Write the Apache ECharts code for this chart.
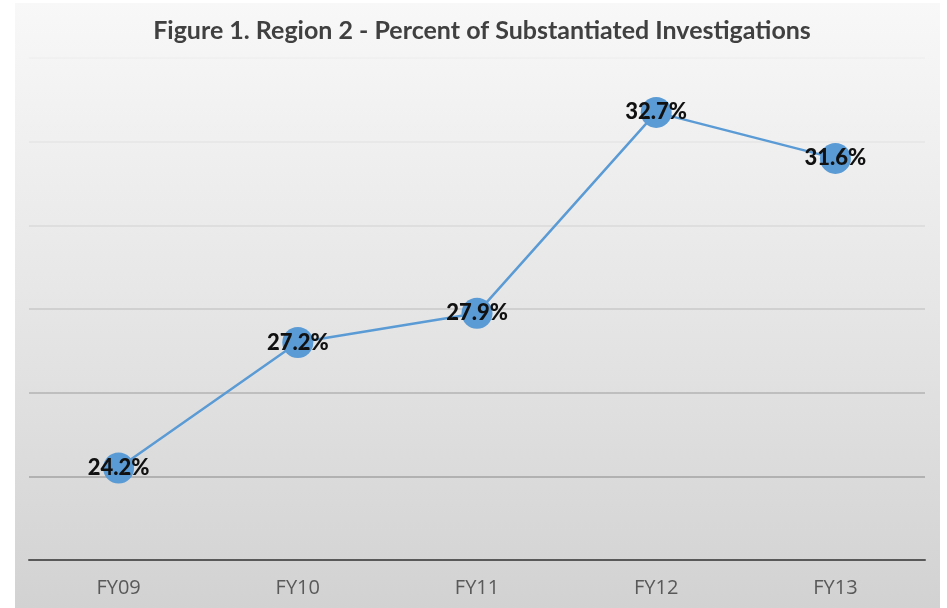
<!DOCTYPE html>
<html>
<head>
<meta charset="utf-8">
<script src="https://cdn.jsdelivr.net/npm/echarts@6/dist/echarts.min.js"></script>
<style>
html,body{margin:0;padding:0;background:#ffffff;}
#chart{width:947px;height:608px;}
</style>
</head>
<body>
<div id="chart"></div>
<script>
const titleText = 'Figure 1. Region 2 - Percent of Substantiated Investigations';
const categories = ['FY09', 'FY10', 'FY11', 'FY12', 'FY13'];
const percentValues = [24.2, 27.2, 27.9, 32.7, 31.6];
const yMin = 22, yMax = 34, yStep = 2;

const chart = echarts.init(document.getElementById('chart'));
chart.setOption({
  animation: false,
  graphic: [{
    type: 'rect',
    z: -10,
    shape: { x: 15, y: 3, width: 925, height: 605 },
    style: {
      fill: {
        type: 'linear', x: 0, y: 0, x2: 0, y2: 1,
        colorStops: [
          { offset: 0, color: '#f8f8f8' },
          { offset: 0.5, color: '#e6e6e6' },
          { offset: 1, color: '#d2d2d2' }
        ]
      }
    },
    silent: true
  }],
  title: {
    text: titleText,
    left: 477, top: 13, textAlign: 'center',
    textStyle: { fontFamily: 'Lato', fontWeight: 'bold', fontSize: 25, color: '#404040' }
  },
  grid: { left: 29, right: 22, top: 58, bottom: 48, containLabel: false },
  xAxis: {
    type: 'category',
    data: categories,
    boundaryGap: true,
    axisLine: { lineStyle: { color: '#595959', width: 2 } },
    axisTick: { show: false },
    axisLabel: { color: '#595959', fontSize: 20, fontFamily: 'Open Sans', margin: 18 }
  },
  yAxis: {
    type: 'value',
    min: yMin, max: yMax, interval: yStep,
    axisLine: { show: false },
    axisTick: { show: false },
    axisLabel: { show: false },
    splitLine: {
      lineStyle: {
        width: 1.5,
        color: ['#d3d3d3', '#a3a3a3', '#b3b3b3', '#c9c9c9', '#dadada', '#e6e6e6', '#efefef']
      }
    }
  },
  series: [{
    type: 'line',
    data: percentValues,
    symbol: 'circle',
    symbolSize: 31,
    lineStyle: { color: '#5b9bd5', width: 2.5 },
    itemStyle: { color: '#5b9bd5' },
    label: {
      show: true,
      position: 'inside',
      formatter: p => p.value.toFixed(1) + '%',
      fontFamily: 'Lato',
      fontWeight: 900,
      fontSize: 22,
      color: '#111111'
    }
  }]
});
</script>
</body>
</html>
